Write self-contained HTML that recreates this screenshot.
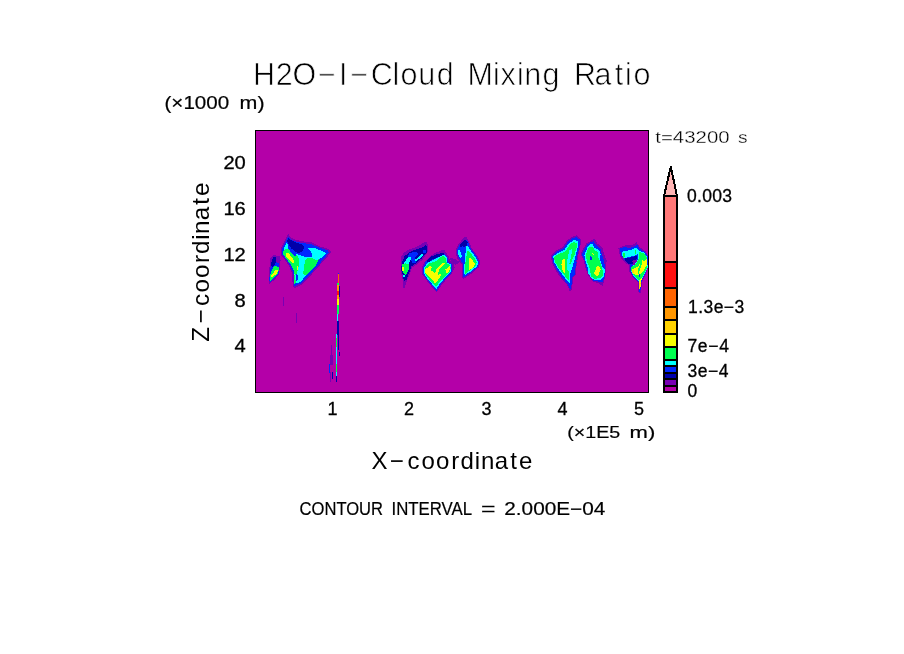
<!DOCTYPE html>
<html><head><meta charset="utf-8"><title>H2O-I-Cloud Mixing Ratio</title>
<style>
html,body{margin:0;padding:0;background:#fff;}
body{width:904px;height:654px;overflow:hidden;}
svg{display:block;}
text{font-family:"Liberation Sans",sans-serif;fill:#000;}
.thin{stroke:#fff;stroke-width:0.7px;}
.thin2{stroke:none;}
.thin3{stroke:#fff;stroke-width:0.3px;}
.b{stroke:#000;stroke-width:0.3px;}
.b2{stroke:#000;stroke-width:0.2px;}
</style></head><body>
<svg width="904" height="654" viewBox="0 0 904 654">
<rect width="904" height="654" fill="#fff"/>
<rect x="255.5" y="130.5" width="393" height="262" fill="#b400a8" stroke="#000" stroke-width="1"/>
<defs><clipPath id="pc"><rect x="256" y="131" width="392" height="261"/></clipPath></defs>
<g shape-rendering="crispEdges" clip-path="url(#pc)">
<polygon points="288.3,234.1 290.3,237.3 296.7,240.1 304.0,241.5 311.4,242.4 318.7,246.1 328.3,248.8 331.6,252.0 324.2,260.3 316.9,268.5 309.5,276.8 301.3,285.0 293.9,288.7 292.6,284.1 292.1,274.0 289.4,266.7 284.8,259.4 280.6,254.8 281.1,247.4 284.8,240.1" fill="#7800b4"/>
<polygon points="288.0,236.9 290.3,239.2 296.7,241.9 304.0,243.3 311.4,244.2 318.7,247.4 327.9,250.6 328.8,252.5 323.3,259.4 316.0,267.6 308.6,275.9 301.3,283.2 294.4,286.4 293.5,283.2 293.5,274.0 290.7,266.7 286.1,259.4 282.0,254.3 282.5,248.3 285.7,241.5" fill="#0028ff"/>
<polygon points="288.4,237.8 291.2,240.1 296.7,242.8 303.1,244.7 304.0,248.3 302.2,251.6 298.5,252.9 294.9,251.6 291.2,248.3 288.4,243.8 287.1,241.0" fill="#0000aa"/>
<polygon points="306.8,247.9 315.0,248.3 323.3,251.6 326.1,252.9 322.4,257.5 316.9,260.3 311.4,257.5 312.3,253.9 309.5,249.7" fill="#00ffff"/>
<polygon points="296.7,253.9 304.0,256.6 311.4,257.5 316.9,260.3 311.4,268.5 305.9,275.9 300.8,281.4 297.2,283.7 295.3,282.8 294.1,274.0 294.9,266.7 294.4,261.2" fill="#00ffff"/>
<polygon points="284.3,248.3 287.5,247.4 291.2,252.9 294.9,256.6 296.7,254.8 298.5,257.5 298.5,266.7 296.7,274.0 294.9,275.9 293.9,270.4 291.2,264.9 286.6,259.4 282.9,253.9" fill="#00ff50"/>
<polygon points="311.4,257.5 316.9,260.3 318.7,259.4 315.0,266.7 309.5,272.2 305.9,275.0 303.1,274.0 304.0,266.7 305.0,261.2 307.7,257.5" fill="#00ff50"/>
<polygon points="299.0,257.5 303.1,257.5 303.6,261.2 301.7,266.7 300.4,273.1 299.0,273.1 299.4,266.7" fill="#00ffff"/>
<polygon points="286.1,253.4 288.4,252.9 292.1,257.5 293.9,261.2 293.5,263.5 291.2,262.1 287.5,258.4 285.7,255.7" fill="#f6ff00"/>
<polygon points="297.2,266.2 298.1,266.2 298.1,270.4 297.2,270.4" fill="#f6ff00"/>
<polygon points="293.8,275.0 295.3,274.0 295.6,282.8 294.1,284.1" fill="#00ff50"/>
<polygon points="295.8,274.0 297.8,275.0 298.1,280.0 296.2,281.4" fill="#0028ff"/>
<polygon points="273.8,255.2 279.7,256.1 280.6,260.3 279.7,266.7 279.3,274.0 275.6,278.6 269.6,284.1 268.7,281.4 269.2,273.1 269.6,264.9 270.1,258.4" fill="#7800b4"/>
<polygon points="273.3,257.1 275.6,257.5 276.1,261.7 279.3,263.9 279.4,266.7 278.8,273.6 275.1,277.7 269.9,282.8 269.2,279.5 269.9,273.1 270.6,266.7 271.5,262.1" fill="#0028ff"/>
<polygon points="273.3,257.1 275.6,257.5 275.8,261.7 274.7,265.3 272.4,266.7 271.0,265.8 271.7,261.2" fill="#0000aa"/>
<polygon points="274.7,265.3 277.4,266.7 278.8,267.6 278.3,273.1 274.7,276.8 270.1,281.4 269.6,277.7 271.0,272.2 272.8,268.5" fill="#00ff50"/>
<polygon points="275.1,269.9 277.9,270.4 277.4,273.1 273.8,275.9 270.6,277.7 271.5,275.0 273.8,272.2" fill="#f6ff00"/>
<polygon points="286.4,243.1 288.2,244.4 287.9,248.4 284.0,249.7 283.3,248.9" fill="#00ffff"/>
<polygon points="449.5,257.2 455.5,259.2 459.6,262.3 455.5,264.8 451.5,262.3" fill="#7800b4"/>
<polygon points="426.1,241.3 428.1,245.4 427.7,252.0 422.8,259.5 417.0,264.4 412.0,267.7 409.6,274.3 406.7,280.9 404.6,288.4 403.0,287.5 402.5,279.3 400.5,271.0 400.5,257.8 403.8,252.9 408.7,249.6 416.2,247.1 421.9,243.8" fill="#7800b4"/>
<polygon points="425.7,245.0 427.3,247.9 426.5,252.9 421.9,258.2 416.6,263.2 411.6,266.1 409.1,272.7 406.3,280.1 403.8,280.9 402.5,274.3 401.3,270.2 401.7,262.8 404.6,256.2 409.6,252.0 417.0,249.1 422.8,247.1" fill="#0000aa"/>
<polygon points="409.6,252.9 417.0,251.6 417.8,254.5 414.5,258.6 417.0,259.9 415.8,262.8 412.9,263.6 411.6,261.1 408.7,259.5 407.5,256.6" fill="#0028ff"/>
<polygon points="422.8,250.4 426.5,249.6 426.1,252.5 423.6,253.7" fill="#0028ff"/>
<polygon points="407.5,257.8 410.4,256.6 411.2,257.8 409.6,261.9 408.7,266.1 405.4,265.3 403.8,263.6 405.0,261.5" fill="#00ffff"/>
<polygon points="421.9,253.3 423.6,254.1 421.1,257.8 415.8,261.1 414.5,259.9 418.6,257.4" fill="#00ffff"/>
<polygon points="402.1,264.4 405.4,263.2 408.7,264.4 409.1,268.6 406.7,274.3 405.0,275.2 403.4,272.7 402.1,269.4" fill="#00ff50"/>
<polygon points="402.5,274.3 404.2,274.7 405.0,276.8 403.0,276.8" fill="#00ffff"/>
<polygon points="402.3,267.3 403.8,266.9 403.8,271.0 402.3,271.0" fill="#f6ff00"/>
<polygon points="444.0,249.6 448.6,256.5 450.1,260.3 453.9,262.6 454.7,267.9 451.6,274.1 447.1,278.6 441.7,284.8 436.7,292.4 432.5,287.8 426.4,280.2 422.2,274.1 422.2,267.2 424.1,262.6 429.5,256.5 435.6,252.6" fill="#7800b4"/>
<polygon points="443.6,252.6 447.4,257.2 448.2,262.2 451.3,263.3 452.4,267.9 451.3,273.3 446.3,277.9 440.9,284.0 436.3,290.9 432.9,286.7 427.2,279.8 423.2,273.7 423.2,267.6 425.6,262.2 431.0,256.5 437.1,254.2" fill="#0028ff"/>
<polygon points="426.4,261.4 431.0,256.5 437.1,254.2 443.6,252.6 444.4,254.6 437.9,257.2 432.5,259.5 428.7,263.3" fill="#0000aa"/>
<polygon points="444.0,254.6 446.7,257.6 447.4,263.0 450.5,264.1 451.6,267.9 450.5,272.5 445.5,277.1 440.2,283.2 436.3,289.0 433.7,285.9 427.9,279.4 424.1,273.7 424.0,267.9 427.2,263.0 432.5,260.3 437.9,257.6" fill="#00ffff"/>
<polygon points="443.2,255.7 445.9,258.4 446.7,263.7 449.7,264.9 450.9,267.9 449.7,272.1 444.8,276.3 439.8,281.7 436.0,287.0 434.1,284.8 428.7,278.6 424.9,273.3 424.7,268.3 428.3,263.7 433.3,262.2 437.1,260.3 440.2,257.2" fill="#00ff50"/>
<polygon points="424.5,269.1 427.9,267.9 430.2,265.6 431.8,267.2 431.0,270.2 433.3,271.8 435.2,273.3 436.3,269.5 437.9,267.2 444.0,262.2 445.1,263.3 443.2,265.6 440.2,267.9 438.6,271.0 438.3,274.8 440.9,274.1 440.2,277.1 436.3,282.5 434.4,282.5 431.0,278.6 427.9,275.6 425.3,272.9" fill="#f6ff00"/>
<polygon points="445.5,269.5 449.3,266.0 450.1,267.9 449.0,271.8 445.5,273.7" fill="#f6ff00"/>
<polygon points="466.1,236.0 468.7,241.1 471.7,248.1 477.7,256.2 480.3,262.3 478.8,267.3 471.7,273.4 464.6,278.4 462.6,279.4 462.1,270.3 461.6,264.3 457.6,259.2 455.5,252.2 457.1,246.1 461.6,240.1" fill="#7800b4"/>
<polygon points="466.1,239.1 468.2,242.1 470.7,248.6 476.7,256.7 479.0,262.3 477.7,266.8 471.2,272.4 464.6,276.9 463.4,276.9 463.1,269.3 462.8,263.3 459.1,258.7 456.8,252.2 458.1,247.1 462.4,242.1" fill="#0028ff"/>
<polygon points="465.6,239.6 467.7,242.1 467.1,245.1 464.6,247.1 462.6,246.1 460.6,247.1 459.6,245.6 462.4,242.1" fill="#0000aa"/>
<polygon points="457.6,249.7 460.1,250.2 462.1,257.2 460.4,258.0 458.1,254.2" fill="#00ffff"/>
<polygon points="467.1,245.1 469.7,249.2 475.7,257.2 478.2,262.3 477.2,266.3 470.7,271.4 464.6,275.4 464.1,270.3 464.6,262.3 465.6,252.2 466.1,247.1" fill="#00ffff"/>
<polygon points="467.7,249.7 469.7,252.2 474.7,258.2 476.7,262.3 475.7,265.8 470.2,270.3 465.1,273.9 465.1,267.3 465.6,260.3 466.8,254.2" fill="#00ff50"/>
<polygon points="469.2,257.7 471.7,258.7 475.2,264.3 472.2,268.3 469.2,269.8 469.0,262.3" fill="#f6ff00"/>
<polygon points="576.9,235.4 580.5,238.7 580.5,245.4 578.1,256.3 576.4,267.3 575.7,275.2 573.2,277.6 571.8,289.8 569.9,291.4 566.9,284.9 561.4,278.8 555.7,270.3 552.1,263.0 550.8,255.7 555.3,250.9 562.6,247.2 567.5,239.9 572.4,236.6" fill="#7800b4"/>
<polygon points="576.6,236.9 579.7,239.5 579.7,245.4 577.2,256.3 575.4,267.3 574.8,274.6 572.4,277.0 571.2,288.6 570.2,289.2 567.9,284.3 562.3,278.0 556.8,269.7 553.0,262.4 552.1,256.1 556.2,252.0 563.5,248.3 568.4,241.0 572.7,238.1" fill="#0028ff"/>
<polygon points="574.2,239.9 578.1,241.7 577.9,246.6 575.4,256.3 572.4,267.3 570.6,272.2 569.9,283.1 568.1,281.9 563.3,275.8 557.8,268.5 554.1,261.8 553.3,256.3 557.2,253.3 564.5,249.6 569.3,243.0" fill="#00ffff"/>
<polygon points="573.6,241.7 576.9,243.6 576.6,247.2 574.2,255.7 571.2,262.4 567.5,268.5 569.3,273.4 569.3,280.7 568.1,280.1 563.9,274.6 558.4,267.9 554.7,261.2 553.9,256.9 557.8,254.5 565.1,251.5 569.9,244.8" fill="#00ff50"/>
<polygon points="569.3,250.3 572.4,249.0 571.2,256.3 569.3,263.6 571.2,266.1 569.9,272.2 567.5,269.7 566.9,262.4 568.1,256.3" fill="#00ffff"/>
<polygon points="562.6,259.4 564.5,259.4 565.1,264.9 564.5,272.8 562.6,270.9 561.4,264.9" fill="#f6ff00"/>
<polygon points="574.8,260.0 576.6,262.4 574.8,272.2 572.4,274.6 571.2,270.9 573.0,266.1" fill="#0028ff"/>
<polygon points="594.8,238.4 597.3,243.4 602.4,247.6 604.1,254.3 606.6,260.2 606.2,268.6 604.9,277.0 602.8,286.3 598.2,282.9 593.1,282.1 588.1,275.3 585.6,268.6 583.9,261.1 580.5,254.3 583.0,249.3 586.4,243.4 590.6,240.9" fill="#7800b4"/>
<polygon points="593.5,241.3 596.1,244.7 600.7,249.3 601.9,254.3 603.6,259.4 605.3,268.6 604.9,275.3 602.8,282.1 598.2,281.6 593.5,280.8 588.9,274.5 586.4,268.2 584.7,260.6 581.8,254.7 583.9,250.1 587.2,244.7 590.6,242.1" fill="#0028ff"/>
<polygon points="590.6,243.8 593.1,244.2 594.0,247.6 599.4,250.5 600.7,254.3 599.8,258.5 602.4,266.9 604.9,269.5 604.1,276.2 601.5,279.5 594.8,280.4 590.6,277.4 588.5,273.7 588.1,268.6 586.0,262.7 584.3,255.2 586.4,250.1 588.1,245.9" fill="#00ffff"/>
<polygon points="588.9,246.8 592.7,246.8 594.8,250.1 597.7,251.8 598.2,256.8 600.3,261.9 601.9,267.8 603.2,272.0 602.4,277.0 599.8,278.3 594.4,278.7 591.0,276.2 589.8,268.6 586.8,261.1 586.0,255.2 587.2,251.0" fill="#00ff50"/>
<polygon points="590.2,256.0 591.3,256.0 591.9,260.2 590.4,260.2" fill="#0028ff"/>
<polygon points="596.9,266.1 599.4,266.5 600.7,269.5 599.0,273.7 598.2,276.6 596.1,276.2 593.5,272.8 595.6,270.3" fill="#f6ff00"/>
<polygon points="592.3,253.1 594.0,253.9 593.1,255.0" fill="#f6ff00"/>
<polygon points="636.3,242.0 639.9,247.2 645.4,251.2 647.8,255.7 647.8,267.9 645.4,275.2 642.3,281.3 640.5,293.5 638.5,292.2 638.1,282.5 633.8,278.8 629.3,271.5 629.0,265.5 623.5,261.4 620.2,256.9 618.3,248.4 623.9,245.6 630.2,245.1 633.8,244.4" fill="#7800b4"/>
<polygon points="619.5,248.4 624.1,247.2 630.2,247.8 635.0,246.0 636.9,244.2 639.3,248.4 644.8,252.1 647.8,256.3 647.8,267.3 644.8,274.6 641.7,280.7 640.3,292.2 638.9,291.6 638.7,281.9 634.4,278.2 630.2,270.9 630.2,264.9 624.7,260.0 621.4,255.7" fill="#0028ff"/>
<polygon points="623.5,250.9 630.2,250.3 635.0,247.8 638.1,249.0 638.1,253.9 635.0,255.7 629.0,256.9 624.1,258.2 622.3,255.7 622.3,252.7" fill="#00ffff"/>
<polygon points="632.0,260.6 636.3,259.4 637.5,262.4 633.8,265.5 632.0,264.2" fill="#7800b4"/>
<polygon points="638.1,250.3 644.2,252.7 647.2,256.9 647.6,267.3 644.5,274.3 641.4,280.4 639.3,281.3 634.8,277.5 630.7,271.2 630.7,267.0 634.8,264.6 637.7,259.7" fill="#00ffff"/>
<polygon points="638.7,252.1 644.2,253.3 646.6,256.9 647.2,267.3 644.2,274.0 641.1,280.1 639.3,280.7 635.0,277.0 631.2,270.9 631.2,267.3 635.0,264.9 638.1,260.0 639.3,255.7" fill="#00ff50"/>
<polygon points="641.1,257.6 642.3,260.0 644.8,261.2 646.6,259.4 647.0,264.9 644.2,269.7 641.1,273.4 637.5,275.2 633.2,274.0 632.0,269.7 635.7,267.9 638.7,266.1 640.5,262.4" fill="#f6ff00"/>
<polygon points="632.0,269.7 633.8,269.5 634.1,273.4 632.4,273.4" fill="#ffd200"/>
<polygon points="639.3,280.7 641.7,278.2 641.1,284.3 639.9,289.2 639.1,289.2" fill="#f6ff00"/>
<polygon points="639.4,283.1 640.6,283.1 640.2,288.6 639.4,288.6" fill="#ffd200"/>
<polygon points="622.8,253.1 625.2,252.6 624.9,257.1 623.2,258.0" fill="#00ff50"/>
<polygon points="635.0,250.4 636.3,250.0 636.3,254.0 635.0,254.4" fill="#00ff50"/>
<polygon points="623.9,258.8 631.9,257.1 637.2,255.7 636.3,260.2 632.7,263.7 630.1,264.6 627.4,262.8" fill="#0000aa"/>
<polygon points="632.3,260.6 635.8,259.7 635.0,262.4 632.7,263.7" fill="#7800b4"/>
<polygon points="640.7,257.5 642.1,257.1 641.6,264.6 640.3,268.2 638.9,273.5 637.6,273.5 638.5,268.2 640.3,263.7" fill="#00ff50"/>
<polygon points="639.1,273.9 640.2,273.9 640.2,276.6 639.1,276.6" fill="#0028ff"/>
<rect x="338" y="272.5" width="1.3" height="2" fill="#0028ff"/>
<rect x="338" y="274" width="1.3" height="9" fill="#ff6400"/>
<rect x="339" y="286" width="1.2" height="11" fill="#0000aa"/>
<rect x="337" y="283" width="2" height="4" fill="#00ff50"/>
<rect x="337.3" y="285" width="2" height="6" fill="#ff9600"/>
<rect x="337" y="291" width="2" height="6" fill="#ff1010"/>
<rect x="337.3" y="295" width="1.8" height="4" fill="#ff9600"/>
<rect x="337" y="299" width="2" height="6" fill="#f6ff00"/>
<rect x="337" y="305" width="1.5" height="9" fill="#00ff50"/>
<rect x="337" y="314" width="1.3" height="7" fill="#00ffff"/>
<rect x="336.6" y="321" width="2.4" height="14" fill="#0000aa"/>
<rect x="338" y="330" width="1.4" height="20" fill="#0000aa"/>
<rect x="336" y="334" width="1.2" height="42" fill="#00ffff"/>
<rect x="336" y="338" width="1.2" height="9" fill="#00ff50"/>
<rect x="336" y="364" width="1.2" height="8" fill="#00ff50"/>
<rect x="336" y="376" width="1.2" height="6" fill="#0000aa"/>
<rect x="339" y="352" width="1" height="4" fill="#0000aa"/>
<rect x="331" y="345" width="1" height="12" fill="#7800b4"/>
<rect x="329.5" y="355" width="3" height="10" fill="#7800b4"/>
<rect x="329" y="364" width="1.4" height="9" fill="#0028ff"/>
<rect x="332" y="372" width="1.2" height="7" fill="#0000aa"/>
<rect x="330" y="372" width="1" height="10" fill="#7800b4"/>
<rect x="283" y="297" width="1" height="9" fill="#7800b4"/>
<rect x="296" y="313" width="1" height="10" fill="#7800b4"/>
</g>
<g shape-rendering="crispEdges">
<rect x="664" y="386" width="13" height="6" fill="#b400a8" stroke="#000" stroke-width="2"/>
<rect x="664" y="379" width="13" height="7" fill="#7800b4" stroke="#000" stroke-width="2"/>
<rect x="664" y="373" width="13" height="6" fill="#0000aa" stroke="#000" stroke-width="2"/>
<rect x="664" y="366" width="13" height="7" fill="#0028ff" stroke="#000" stroke-width="2"/>
<rect x="664" y="360" width="13" height="6" fill="#00ffff" stroke="#000" stroke-width="2"/>
<rect x="664" y="347" width="13" height="13" fill="#00ff50" stroke="#000" stroke-width="2"/>
<rect x="664" y="334" width="13" height="13" fill="#f6ff00" stroke="#000" stroke-width="2"/>
<rect x="664" y="320" width="13" height="14" fill="#ffd200" stroke="#000" stroke-width="2"/>
<rect x="664" y="307" width="13" height="13" fill="#ff9600" stroke="#000" stroke-width="2"/>
<rect x="664" y="288" width="13" height="19" fill="#ff6400" stroke="#000" stroke-width="2"/>
<rect x="664" y="262" width="13" height="26" fill="#ff1010" stroke="#000" stroke-width="2"/>
<rect x="664" y="196" width="13" height="66" fill="#ff7878" stroke="#000" stroke-width="2"/>
<polygon points="664,196 677,196 670.8,166.6" fill="#ffb4b4" stroke="#000" stroke-width="2" stroke-linejoin="miter"/>
</g>
<g>
<text x="253.1 275.7 292.6 318.1 339.1 350.5 370.8 392.5 400.4 418.2 436.7 460.0 467.6 492.9 500.5 517.0 524.2 542.6 567.0 574.0 594.5 614.8 625.0 633.4" y="85 85 85 85 85 85 85 85 85 85 85 85 85 85 85 85 85 85 85 85 85 85 85 85" font-size="30.5" class="thin">H2O−I−Cloud Mixing Ratio</text>
<text x="164.5" y="108.8" font-size="18.5" textLength="64.7" lengthAdjust="spacingAndGlyphs" class="b2">(×1000</text>
<text x="239.6" y="108.8" font-size="18.5" textLength="25" lengthAdjust="spacingAndGlyphs" class="b2">m)</text>
<text x="223.4" y="169.2" font-size="18.5" textLength="22.4" lengthAdjust="spacingAndGlyphs" class="b">20</text>
<text x="223.4" y="215.2" font-size="18.5" textLength="22.4" lengthAdjust="spacingAndGlyphs" class="b">16</text>
<text x="223.4" y="261" font-size="18.5" textLength="22.4" lengthAdjust="spacingAndGlyphs" class="b">12</text>
<text x="234.4" y="306.8" font-size="18.5" textLength="11.2" lengthAdjust="spacingAndGlyphs" class="b">8</text>
<text x="234.4" y="352.4" font-size="18.5" textLength="11.2" lengthAdjust="spacingAndGlyphs" class="b">4</text>
<text x="332.5" y="414.6" font-size="18" text-anchor="middle" class="b">1</text>
<text x="409" y="414.6" font-size="18" text-anchor="middle" class="b">2</text>
<text x="486.5" y="414.6" font-size="18" text-anchor="middle" class="b">3</text>
<text x="562.5" y="414.6" font-size="18" text-anchor="middle" class="b">4</text>
<text x="639" y="414.6" font-size="18" text-anchor="middle" class="b">5</text>
<text x="567.2" y="437.8" font-size="17" textLength="53" lengthAdjust="spacingAndGlyphs" class="b2">(×1E5</text>
<text x="629.6" y="437.8" font-size="17" textLength="25.7" lengthAdjust="spacingAndGlyphs" class="b2">m)</text>
<text x="371.6 389.8 407.6 421.4 435.9 451.3 460.4 474.8 480.9 494.7 510.3 519.1" y="468.5 468.5 468.5 468.5 468.5 468.5 468.5 468.5 468.5 468.5 468.5 468.5" font-size="24" class="thin2">X−coordinate</text>
<text transform="translate(209.3,339.6) rotate(-90)" x="-2.1 16.1 33.6 47.2 61.5 76.7 85.6 99.9 105.7 119.4 134.9 143.5" y="0 0 0 0 0 0 0 0 0 0 0 0" font-size="24.3" class="thin2">Z−coordinate</text>
<text x="299.6" y="515.4" font-size="18" textLength="83.4" lengthAdjust="spacingAndGlyphs" class="b2">CONTOUR</text>
<text x="391.5" y="515.4" font-size="18" textLength="80.6" lengthAdjust="spacingAndGlyphs" class="b2">INTERVAL</text>
<text x="481" y="515.4" font-size="18" textLength="14.5" lengthAdjust="spacingAndGlyphs" class="b2">=</text>
<text x="504.3" y="515.4" font-size="18" textLength="101" lengthAdjust="spacingAndGlyphs" class="b2">2.000E−04</text>
<text x="655.3" y="142.7" font-size="16.5" textLength="74.3" lengthAdjust="spacingAndGlyphs" class="thin3">t=43200</text>
<text x="738" y="142.7" font-size="16.5" textLength="9.6" lengthAdjust="spacingAndGlyphs" class="thin3">s</text>
<text x="687" y="201.5" font-size="17.5" textLength="45" lengthAdjust="spacing" class="b">0.003</text>
<text x="688" y="312.9" font-size="17.5" textLength="56.2" lengthAdjust="spacing" class="b">1.3e−3</text>
<text x="687.4" y="351.5" font-size="17.5" textLength="41.5" lengthAdjust="spacing" class="b">7e−4</text>
<text x="687.4" y="377.4" font-size="17.5" textLength="41" lengthAdjust="spacing" class="b">3e−4</text>
<text x="687.4" y="397.3" font-size="17.5" class="b">0</text>
</g>
</svg>
</body></html>
